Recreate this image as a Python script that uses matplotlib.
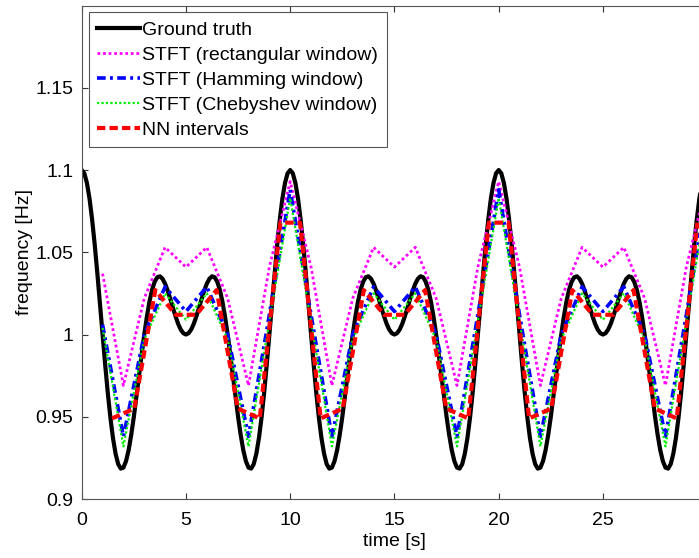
"""Instantaneous frequency: ground truth vs STFT estimates vs NN intervals."""
import numpy as np
import matplotlib
matplotlib.use("Agg")
import matplotlib.pyplot as plt

plt.rcParams["font.family"] = ["Liberation Sans", "DejaVu Sans"]

# ground truth, sampled every 0.125 s from 0 to 30 s
T_GT_STEP = 0.125
f_gt = [
    # 0 .. 10 s
    1.1, 1.0980, 1.0921, 1.0826, 1.0698, 1.0545, 1.0372, 1.0188, 1.0, 0.9817,
    0.9646, 0.9495, 0.9370, 0.9275, 0.9212, 0.9185, 0.9191, 0.9230, 0.9297, 0.9390,
    0.95, 0.9623, 0.9751, 0.9879, 1.0, 1.0108, 1.0200, 1.0272, 1.0321, 1.0348,
    1.0354, 1.0339, 1.0309, 1.0266, 1.0216, 1.0162, 1.0111, 1.0065, 1.0030, 1.0008,
    1.0, 1.0008, 1.0030, 1.0065, 1.0111, 1.0162, 1.0216, 1.0266, 1.0309, 1.0339,
    1.0354, 1.0348, 1.0321, 1.0272, 1.0200, 1.0108, 1.0, 0.9879, 0.9751, 0.9623,
    0.95, 0.9390, 0.9297, 0.9230, 0.9191, 0.9185, 0.9212, 0.9275, 0.9370, 0.9495,
    0.9646, 0.9817, 1.0, 1.0188, 1.0372, 1.0545, 1.0698, 1.0826, 1.0921, 1.0980,
    # 10 .. 20 s
    1.1, 1.0980, 1.0921, 1.0826, 1.0698, 1.0545, 1.0372, 1.0188, 1.0, 0.9817,
    0.9646, 0.9495, 0.9370, 0.9275, 0.9212, 0.9185, 0.9191, 0.9230, 0.9297, 0.9390,
    0.95, 0.9623, 0.9751, 0.9879, 1.0, 1.0108, 1.0200, 1.0272, 1.0321, 1.0348,
    1.0354, 1.0339, 1.0309, 1.0266, 1.0216, 1.0162, 1.0111, 1.0065, 1.0030, 1.0008,
    1.0, 1.0008, 1.0030, 1.0065, 1.0111, 1.0162, 1.0216, 1.0266, 1.0309, 1.0339,
    1.0354, 1.0348, 1.0321, 1.0272, 1.0200, 1.0108, 1.0, 0.9879, 0.9751, 0.9623,
    0.95, 0.9390, 0.9297, 0.9230, 0.9191, 0.9185, 0.9212, 0.9275, 0.9370, 0.9495,
    0.9646, 0.9817, 1.0, 1.0188, 1.0372, 1.0545, 1.0698, 1.0826, 1.0921, 1.0980,
    # 20 .. 30 s
    1.1, 1.0980, 1.0921, 1.0826, 1.0698, 1.0545, 1.0372, 1.0188, 1.0, 0.9817,
    0.9646, 0.9495, 0.9370, 0.9275, 0.9212, 0.9185, 0.9191, 0.9230, 0.9297, 0.9390,
    0.95, 0.9623, 0.9751, 0.9879, 1.0, 1.0108, 1.0200, 1.0272, 1.0321, 1.0348,
    1.0354, 1.0339, 1.0309, 1.0266, 1.0216, 1.0162, 1.0111, 1.0065, 1.0030, 1.0008,
    1.0, 1.0008, 1.0030, 1.0065, 1.0111, 1.0162, 1.0216, 1.0266, 1.0309, 1.0339,
    1.0354, 1.0348, 1.0321, 1.0272, 1.0200, 1.0108, 1.0, 0.9879, 0.9751, 0.9623,
    0.95, 0.9390, 0.9297, 0.9230, 0.9191, 0.9185, 0.9212, 0.9275, 0.9370, 0.9495,
    0.9646, 0.9817, 1.0, 1.0188, 1.0372, 1.0545, 1.0698, 1.0826, 1.0921, 1.0980,
    1.1,
]

# STFT estimates, one per second (t = 1 .. 30 s)
t_stft = list(range(1, 31))
f_rect = [1.037, 0.969, 1.022, 1.053, 1.041, 1.053, 1.022, 0.969, 1.041, 1.093,
          1.041, 0.969, 1.022, 1.053, 1.041, 1.053, 1.022, 0.969, 1.041, 1.093,
          1.041, 0.969, 1.022, 1.053, 1.041, 1.053, 1.022, 0.969, 1.041, 1.093]
f_hamm = [1.006, 0.938, 1.000, 1.029, 1.014, 1.029, 1.000, 0.938, 1.012, 1.088,
          1.012, 0.938, 1.000, 1.029, 1.014, 1.029, 1.000, 0.938, 1.012, 1.088,
          1.012, 0.938, 1.000, 1.029, 1.014, 1.029, 1.000, 0.938, 1.012, 1.088]
f_cheb = [1.004, 0.932, 0.997, 1.025, 1.009, 1.025, 0.997, 0.932, 1.008, 1.083,
          1.008, 0.932, 0.997, 1.025, 1.009, 1.025, 0.997, 0.932, 1.008, 1.083,
          1.008, 0.932, 0.997, 1.025, 1.009, 1.025, 0.997, 0.932, 1.008, 1.083]

# NN-interval estimate, plotted at the middle of each interval
t_nn = [1.46, 2.52, 3.53, 4.51, 5.49, 6.47, 7.49, 8.54, 9.53,
        10.47, 11.46, 12.52, 13.53, 14.51, 15.49, 16.47, 17.49, 18.54, 19.53,
        20.47, 21.46, 22.52, 23.53, 24.51, 25.49, 26.47, 27.49, 28.54, 29.53]
f_nn = [0.949, 0.955, 1.027, 1.012, 1.012, 1.027, 0.955, 0.949, 1.068,
        1.068, 0.949, 0.955, 1.027, 1.012, 1.012, 1.027, 0.955, 0.949, 1.068,
        1.068, 0.949, 0.955, 1.027, 1.012, 1.012, 1.027, 0.955, 0.949, 1.068]

x_ticks = [0, 5, 10, 15, 20, 25]
y_ticks = [0.9, 0.95, 1.0, 1.05, 1.1, 1.15]
y_tick_labels = ["0.9", "0.95", "1", "1.05", "1.1", "1.15"]


def main():
    t_gt = np.arange(len(f_gt)) * T_GT_STEP

    fig = plt.figure(figsize=(6.99, 5.58), dpi=100)
    # the original is cropped on the right, so the axes run past the figure
    ax = fig.add_axes([0.1169, 0.1057, 0.8948, 0.8844])

    ax.plot(t_gt, f_gt, color="black", lw=3.0, solid_joinstyle="round",
            label="Ground truth")
    ax.plot(t_stft, f_rect, color="#ff00ff", lw=2.0, ls=(0, (1, 1)),
            label="STFT (rectangular window)")
    ax.plot(t_stft, f_hamm, color="#0000ff", lw=2.6, ls=(0, (2.4, 1.2, 0.8, 1.2)),
            label="STFT (Hamming window)")
    ax.plot(t_stft, f_cheb, color="#00ee00", lw=1.6, ls=(0, (1, 1)),
            label="STFT (Chebyshev window)")
    ax.plot(t_nn, f_nn, color="#ff0000", lw=3.0, ls=(0, (2, 1)),
            label="NN intervals")

    ax.set_xlim(0, 30)
    ax.set_ylim(0.9, 1.2)
    ax.set_xticks(x_ticks)
    ax.set_yticks(y_ticks)
    ax.set_yticklabels(y_tick_labels)
    ax.tick_params(direction="in", length=4, width=0.8, labelsize=14,
                   top=True, right=True, colors="#333333", labelcolor="black")
    ax.tick_params(axis="x", pad=9)
    ax.tick_params(axis="y", pad=6)
    for sp in ax.spines.values():
        sp.set_color("#555555"); sp.set_linewidth(0.8)

    ax.set_xlabel("time [s]", fontsize=14, labelpad=3)
    ax.set_ylabel("frequency [Hz]", fontsize=14, labelpad=1.5)

    leg = ax.legend(loc="upper left", fontsize=14, fancybox=False,
                    framealpha=1, edgecolor="#555555", borderpad=0.45,
                    labelspacing=0.38, handlelength=2.2, handletextpad=0.1,
                    borderaxespad=0.35)
    leg.get_frame().set_linewidth(0.8)

    fig.savefig("out.png", dpi=100)


if __name__ == "__main__":
    main()
